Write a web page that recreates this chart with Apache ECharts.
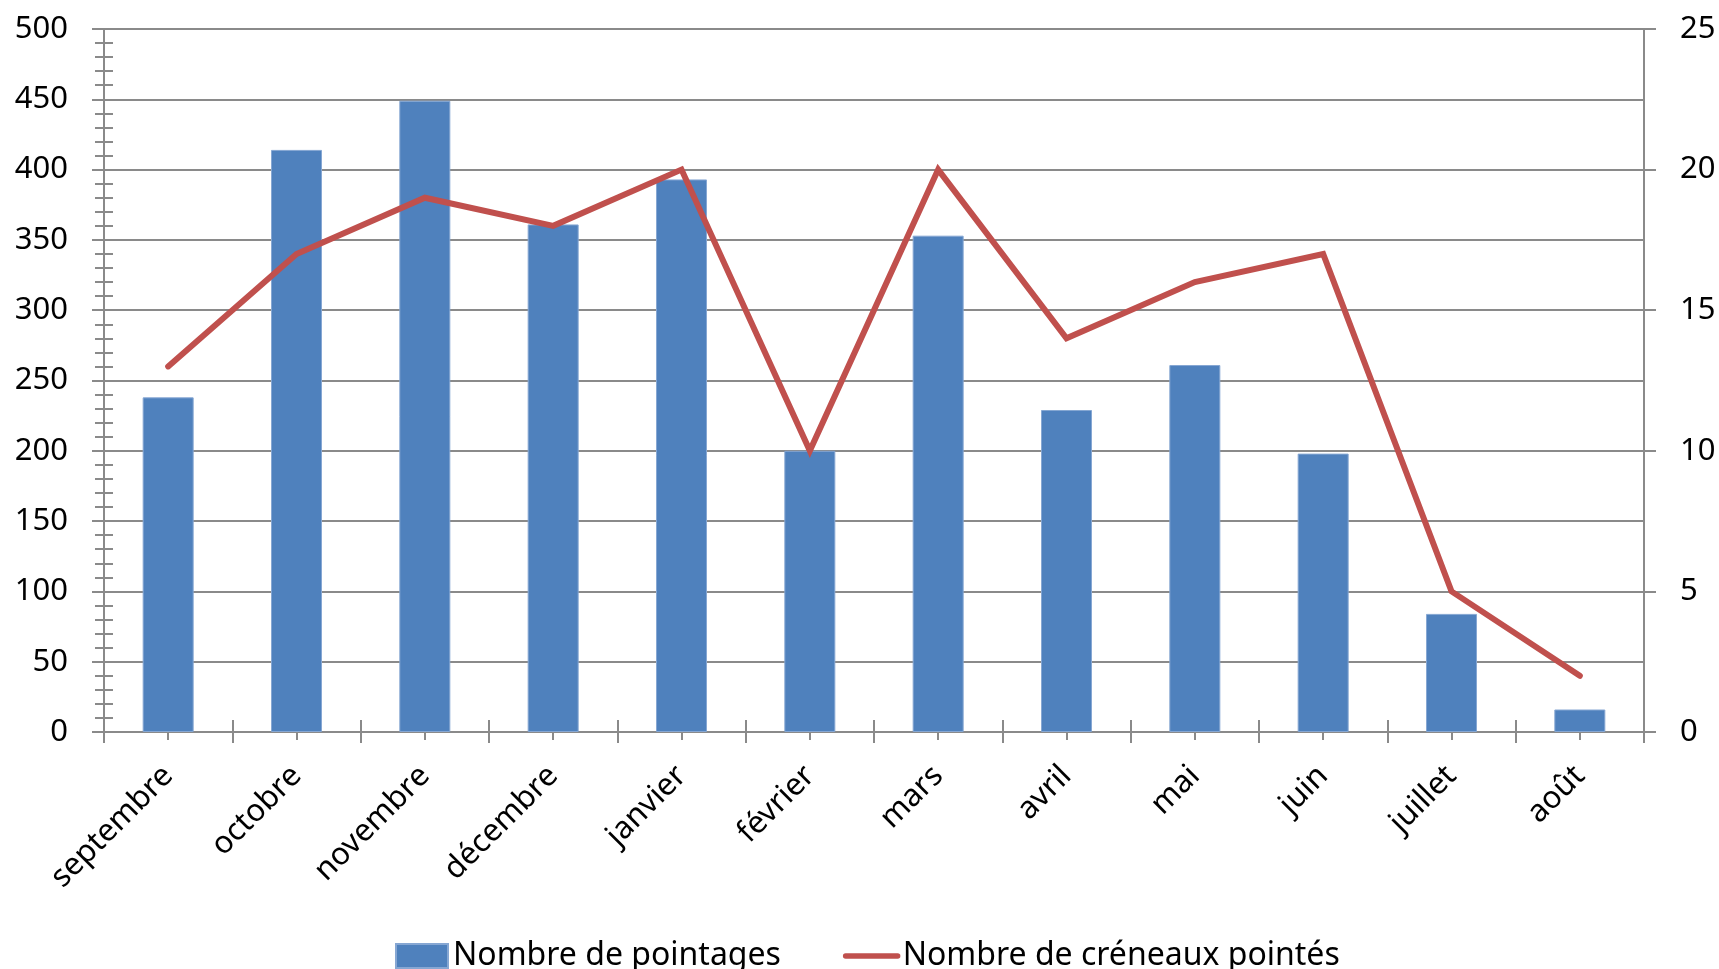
<!DOCTYPE html>
<html>
<head>
<meta charset="utf-8">
<script src="https://cdn.jsdelivr.net/npm/echarts@6/dist/echarts.min.js"></script>
<style>
  html, body { margin: 0; padding: 0; background: #fff; }
  #chart { width: 1719px; height: 969px; }
</style>
</head>
<body>
<div id="chart"></div>
<script>
const months = ["septembre", "octobre", "novembre", "décembre", "janvier", "février",
  "mars", "avril", "mai", "juin", "juillet", "août"];
const pointages = [238, 414, 449, 361, 393, 200, 353, 229, 261, 198, 84, 16];
const creneaux = [13, 17, 19, 18, 20, 10, 20, 14, 16, 17, 5, 2];
const leftTicks = { min: 0, max: 500, interval: 50 };
const rightTicks = { min: 0, max: 25, interval: 5 };

const gray = "#8a8a8a";
const red = "#C0504D";
const font = "Noto Sans";

// extra overlaid axes only draw the tick marks (Excel style crossing ticks)
function tickAxis(inside, len, center) {
  return {
    type: "category",
    data: months,
    position: "bottom",
    boundaryGap: true,
    axisLine: { show: false },
    axisLabel: { show: false },
    splitLine: { show: false },
    axisTick: { show: true, inside: inside, length: len, alignWithLabel: center,
      lineStyle: { color: gray, width: 2 } },
  };
}

const chart = echarts.init(document.getElementById("chart"));
chart.setOption({
  animation: false,
  textStyle: { fontFamily: font },
  grid: { left: 104, right: 75, top: 29, bottom: 237, containLabel: false },
  legend: {
    left: 390,
    top: 935,
    itemWidth: 52,
    itemHeight: 24,
    itemGap: 62,
    textStyle: { fontSize: 32, color: "#000", fontFamily: font },
    data: [
      { name: "Nombre de pointages", icon: "rect" },
      { name: "Nombre de créneaux pointés", itemStyle: { opacity: 0 },
        lineStyle: { width: 5.5, color: red, cap: "round" } },
    ],
  },
  xAxis: [
    {
      type: "category",
      data: months,
      position: "bottom",
      boundaryGap: true,
      axisLine: { show: true, lineStyle: { color: gray, width: 2 } },
      axisTick: { show: true, length: 11, lineStyle: { color: gray, width: 2 } },
      axisLabel: { rotate: 45, margin: 39, fontSize: 31, color: "#000", fontFamily: font, interval: 0 },
      splitLine: { show: false },
    },
    tickAxis(true, 12, false),
    tickAxis(false, 8, true),
    tickAxis(true, 8, true),
  ],
  yAxis: [
    {
      type: "value",
      position: "left",
      min: leftTicks.min, max: leftTicks.max, interval: leftTicks.interval,
      axisLine: { show: true, lineStyle: { color: gray, width: 2 } },
      axisTick: { show: true, length: 12, lineStyle: { color: gray, width: 2 } },
      minorTick: { show: true, splitNumber: 5, length: 9, lineStyle: { color: gray, width: 2 } },
      axisLabel: { fontSize: 31, color: "#000", margin: 36, fontFamily: font },
      splitLine: { show: true, lineStyle: { color: gray, width: 2 } },
    },
    {
      type: "value",
      position: "right",
      min: rightTicks.min, max: rightTicks.max, interval: rightTicks.interval,
      axisLine: { show: true, lineStyle: { color: gray, width: 2 } },
      axisTick: { show: true, length: 12, lineStyle: { color: gray, width: 2 } },
      axisLabel: { fontSize: 31, color: "#000", margin: 36, fontFamily: font },
      splitLine: { show: false },
    },
    {
      type: "value",
      position: "left",
      min: leftTicks.min, max: leftTicks.max, interval: leftTicks.interval,
      axisLine: { show: false },
      axisTick: { show: true, inside: true, length: 11, lineStyle: { color: gray, width: 2 } },
      minorTick: { show: true, splitNumber: 5, length: 9, lineStyle: { color: gray, width: 2 } },
      axisLabel: { show: false },
      splitLine: { show: false },
    },
  ],
  series: [
    {
      name: "Nombre de pointages",
      type: "bar",
      xAxisIndex: 0,
      yAxisIndex: 0,
      barWidth: 51,
      data: pointages,
      itemStyle: { color: "#4F81BD", borderColor: "#86a7d3", borderWidth: 1 },
    },
    {
      name: "Nombre de créneaux pointés",
      type: "line",
      xAxisIndex: 0,
      yAxisIndex: 1,
      data: creneaux,
      symbol: "none",
      lineStyle: { color: red, width: 6, cap: "round", join: "miter" },
      itemStyle: { color: red },
    },
  ],
});
</script>
</body>
</html>
